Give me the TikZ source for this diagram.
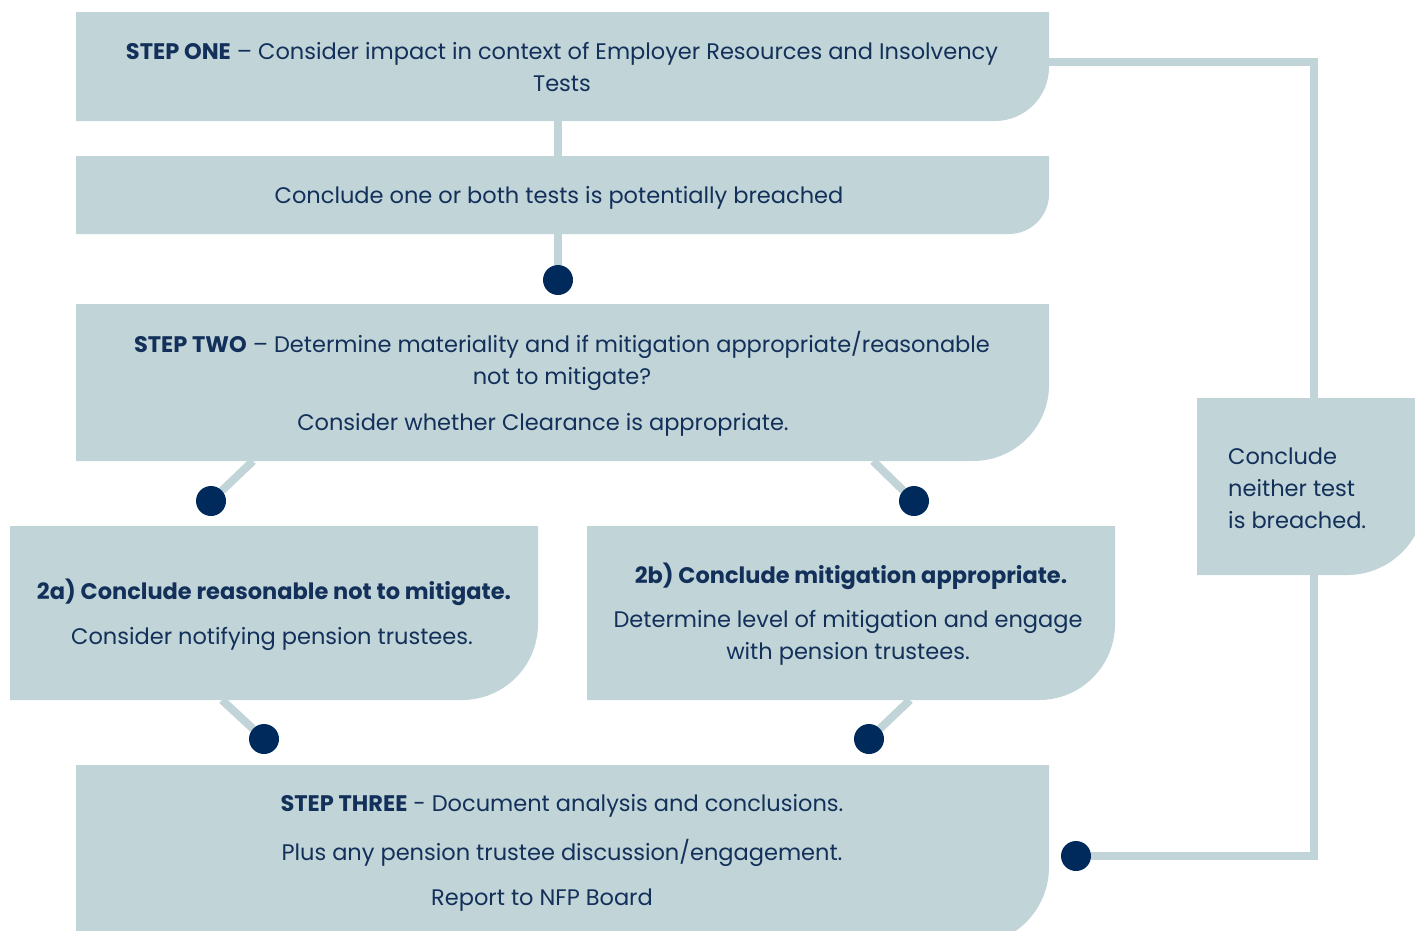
\documentclass[tikz,border=0pt]{standalone}
\usepackage{fontspec}
\setmainfont{Poppins}
\definecolor{boxc}{HTML}{C1D4D7}
\definecolor{navy}{HTML}{002A5C}
\definecolor{txt}{HTML}{12305A}
\pgfdeclarelayer{bg}
\pgfsetlayers{bg,main}
\newcommand\panel[6]{%
  \node[inner sep=0pt, outer sep=0pt, minimum width={(#4-#2)*1pt}, minimum height={(#5-#3)*1pt}] (#1) at ({(#2+#4)/2},{(#3+#5)/2}) {};
  \begin{pgfonlayer}{bg}
  \fill[boxc] (#1.north west) -- (#1.north east) -- ([yshift=#6pt]#1.south east) arc(0:90:#6) -- (#1.south west) -- cycle;
  \end{pgfonlayer}
}
\begin{document}
\begin{tikzpicture}[x=1pt,y=-1pt,
  conn/.style={draw=boxc, line width=8pt},
  dot/.style={circle, fill=navy, inner sep=0pt, minimum size=30pt},
  txtn/.style={text=txt, font=\fontsize{22.5}{32}\selectfont, align=center, inner sep=0pt},
]
\useasboundingbox (0,0) rectangle (1415,930);
% dots and coordinates
\node[dot] (d1) at (558,280) {};
\node[dot] (d2) at (211,501) {};
\node[dot] (d3) at (914,501) {};
\node[dot] (d4) at (264,739) {};
\node[dot] (d5) at (869,739) {};
\node[dot] (d6) at (1076,856) {};
\coordinate (c2) at (253,461);
\coordinate (c3) at (873,461);
\coordinate (c4) at (222,700);
\coordinate (c5) at (910,700);
\coordinate (r0) at (1040,62);
\coordinate (r1) at (1314,62);
\coordinate (r2) at (1314,856);
% boxes
\panel{s1}{76}{12}{1049}{121}{54}
\panel{s2}{76}{156}{1049}{234}{40}
\panel{s3}{76}{304}{1049}{461}{76}
\panel{sa}{10}{526}{538}{700}{76}
\panel{sb}{587}{526}{1115}{700}{76}
\panel{s4}{76}{765}{1049}{945}{78}
\panel{sr}{1197}{398}{1425}{575}{78}
% connectors
\begin{pgfonlayer}{bg}
\draw[conn] (s1.south -| d1) -- (s2.north -| d1);
\draw[conn] (s2.south -| d1) -- (d1);
\draw[conn] (c2) -- (d2);
\draw[conn] (c3) -- (d3);
\draw[conn] (c4) -- (d4);
\draw[conn] (c5) -- (d5);
\draw[conn] (r0) -- (r1) -- (sr.north -| r1);
\draw[conn] (sr.south -| r1) -- (r2) -- (d6);
\end{pgfonlayer}
% texts
\node[txtn] (t1) at (562,67) {\textbf{STEP ONE} – Consider impact in context of Employer Resources and Insolvency\\Tests};
\node[txtn] (t2) at (559,198) {Conclude one or both tests is potentially breached};
\node[txtn] (t3) at (562,361) {\textbf{STEP TWO} – Determine materiality and if mitigation appropriate/reasonable\\not to mitigate?};
\node[txtn] (t3b) at (543,425) {Consider whether Clearance is appropriate.};
\node[txtn] (ta) at (274,592) {\textbf{2a) Conclude reasonable not to mitigate.}};
\node[txtn] (ta2) at (272,639) {Consider notifying pension trustees.};
\node[txtn] (tb) at (851,576) {\textbf{2b) Conclude mitigation appropriate.}};
\node[txtn] (tb2) at (848,638) {Determine level of mitigation and engage\\with pension trustees.};
\node[txtn] (t4) at (562,806) {\textbf{STEP THREE} - Document analysis and conclusions.};
\node[txtn] (t4b) at (562,853) {Plus any pension trustee discussion/engagement.};
\node[txtn] (t4c) at (542,900) {Report to NFP Board};
\node[txtn, align=left, anchor=west] (tr) at (1228,488) {Conclude\\neither test\\is breached.};
\end{tikzpicture}
\end{document}
